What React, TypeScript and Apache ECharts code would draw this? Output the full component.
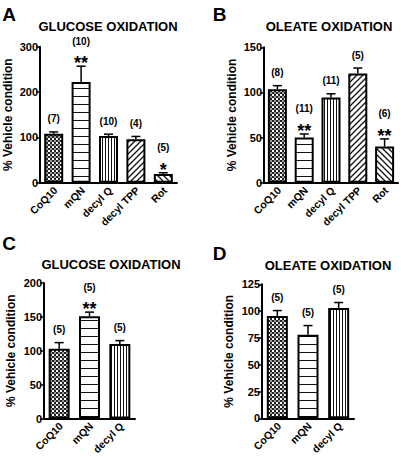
import React, { useEffect, useRef } from 'react';
import * as echarts from 'echarts';

const catsAB = ['CoQ10', 'mQN', 'decyl Q', 'decyl TPP', 'Rot'];
const catsCD = ['CoQ10', 'mQN', 'decyl Q'];

const glucoseA = [108, 222, 103, 96, 19];
const glucoseAErr = [4, 35, 4, 6, 3];
const glucoseAN = ['(7)', '(10)', '(10)', '(4)', '(5)'];
const glucoseASig = ['', '**', '', '', '*'];

const oleateB = [103.5, 50, 94.5, 121, 40];
const oleateBErr = [4, 4, 4, 6, 8.5];
const oleateBN = ['(8)', '(11)', '(11)', '(5)', '(6)'];
const oleateBSig = ['', '**', '', '', '**'];

const glucoseC = [103, 151, 110];
const glucoseCErr = [9, 6, 5];
const glucoseCN = ['(5)', '(5)', '(5)'];
const glucoseCSig = ['', '**', ''];

const oleateD = [95.5, 78, 103];
const oleateDErr = [5, 8.5, 5];
const oleateDN = ['(5)', '(5)', '(5)'];
const oleateDSig = ['', '', ''];

const yTitle = '% Vehicle condition';
const FONT = '"Liberation Sans", Arial, Helvetica, sans-serif';

const patternOf: Record<string, string> = {
  'CoQ10': 'checker',
  'mQN': 'hlines',
  'decyl Q': 'vlines',
  'decyl TPP': 'diagR',
  'Rot': 'diagL',
};

function makePattern(kind: string) {
  const c = document.createElement('canvas');
  let w = 4, h = 4;
  if (kind === 'hlines') { w = 4; h = 8; }
  if (kind === 'vlines') { w = 3; h = 4; }
  if (kind === 'diagR' || kind === 'diagL') { w = 6; h = 6; }
  c.width = w; c.height = h;
  const ctx = c.getContext('2d')!;
  ctx.fillStyle = '#fff';
  ctx.fillRect(0, 0, w, h);
  ctx.fillStyle = '#111';
  ctx.strokeStyle = '#111';
  if (kind === 'checker') {
    ctx.fillStyle = '#222';
    ctx.fillRect(0, 0, 2, 2);
    ctx.fillRect(2, 2, 2, 2);
    ctx.fillStyle = '#999';
    ctx.fillRect(2, 0, 2, 2);
  } else if (kind === 'hlines') {
    ctx.fillRect(0, 0, w, 1);
  } else if (kind === 'vlines') {
    ctx.fillRect(0, 0, 1, h);
  } else if (kind === 'diagR') {
    ctx.lineWidth = 1.3;
    ctx.beginPath();
    ctx.moveTo(0, h); ctx.lineTo(w, 0);
    ctx.moveTo(-2, 2); ctx.lineTo(2, -2);
    ctx.moveTo(w - 2, h + 2); ctx.lineTo(w + 2, h - 2);
    ctx.stroke();
  } else if (kind === 'diagL') {
    ctx.lineWidth = 1.3;
    ctx.beginPath();
    ctx.moveTo(0, 0); ctx.lineTo(w, h);
    ctx.moveTo(w - 2, -2); ctx.lineTo(w + 2, 2);
    ctx.moveTo(-2, h - 2); ctx.lineTo(2, h + 2);
    ctx.stroke();
  }
  return { image: c.toDataURL(), repeat: 'repeat', imageWidth: w, imageHeight: h };
}

export default function App() {
  const ref = useRef<HTMLDivElement>(null);
  useEffect(() => {
    if (!ref.current) return;
    const chart = echarts.init(ref.current, null, { renderer: 'svg' });
    const pats: Record<string, any> = {};
    Object.keys(patternOf).forEach((k) => { pats[k] = makePattern(patternOf[k]); });

    const grids = [
      { left: 40, top: 46.7, width: 137, height: 136 },
      { left: 264, top: 47.3, width: 134, height: 135.4 },
      { left: 44, top: 283, width: 91, height: 135.5 },
      { left: 262, top: 284.3, width: 92, height: 134 },
    ];

    const xAxis = (gi: number, cats: string[]) => ({
      type: 'category', gridIndex: gi, data: cats,
      axisLine: { show: true, lineStyle: { color: '#000', width: 2 } },
      axisTick: { show: false },
      axisLabel: { show: false },
      splitLine: { show: false },
    });
    const yAxis = (gi: number, max: number, interval: number, gap: number) => ({
      type: 'value', gridIndex: gi, min: 0, max, interval,
      name: yTitle, nameLocation: 'middle', nameGap: gap,
      nameTextStyle: { fontSize: 12, fontWeight: 'bold', color: '#000', fontFamily: FONT },
      axisLine: { show: true, lineStyle: { color: '#000', width: 2 } },
      axisTick: { show: true, length: 4, lineStyle: { color: '#000', width: 1.5 } },
      axisLabel: { fontSize: 11, fontWeight: 'bold', color: '#000', margin: 2, fontFamily: FONT },
      splitLine: { show: false },
    });

    const barSeries = (gi: number, cats: string[], vals: number[], bw: number) => ({
      type: 'bar', xAxisIndex: gi, yAxisIndex: gi, barWidth: bw, silent: true,
      emphasis: { disabled: true },
      data: vals.map((v, i) => ({
        value: v,
        itemStyle: { color: pats[cats[i]], borderColor: '#000', borderWidth: 2 },
      })),
    });

    const catLabelSeries = (gi: number, cats: string[]) => ({
      type: 'custom', xAxisIndex: gi, yAxisIndex: gi, silent: true, z: 6, clip: false,
      data: cats.map((c, i) => [i, 0]),
      renderItem: (params: any, api: any) => {
        const p = api.coord([api.value(0), 0]);
        return {
          type: 'text',
          x: p[0] + 2,
          y: p[1] + 6,
          rotation: Math.PI / 4,
          style: { text: cats[params.dataIndex], align: 'right', verticalAlign: 'middle', font: `bold 10.5px ${FONT}`, fill: '#000' },
        };
      },
    });

    const errSeries = (gi: number, vals: number[], errs: number[], ns: string[], sigs: string[]) => ({
      type: 'custom', xAxisIndex: gi, yAxisIndex: gi, silent: true, z: 5,
      data: vals.map((v, i) => [i, v, errs[i]]),
      renderItem: (params: any, api: any) => {
        const i = api.value(0);
        const m = api.value(1);
        const e = api.value(2);
        const top = api.coord([i, m + e]);
        const base = api.coord([i, m]);
        const children: any[] = [
          { type: 'line', shape: { x1: base[0], y1: base[1], x2: top[0], y2: top[1] }, style: { stroke: '#000', lineWidth: 1.5 } },
          { type: 'line', shape: { x1: top[0] - 4.5, y1: top[1], x2: top[0] + 4.5, y2: top[1] }, style: { stroke: '#000', lineWidth: 1.5 } },
        ];
        const sig = sigs[params.dataIndex];
        const nText = ns[params.dataIndex];
        if (sig) {
          children.push({ type: 'text', style: { text: sig, x: top[0], y: top[1] - 3, align: 'center', verticalAlign: 'middle', font: `bold 18px ${FONT}`, fill: '#000' } });
          children.push({ type: 'text', style: { text: nText, x: top[0], y: top[1] - 25, align: 'center', verticalAlign: 'middle', font: `bold 10px ${FONT}`, fill: '#000' } });
        } else {
          children.push({ type: 'text', style: { text: nText, x: top[0], y: top[1] - 13, align: 'center', verticalAlign: 'middle', font: `bold 10px ${FONT}`, fill: '#000' } });
        }
        return { type: 'group', children };
      },
    });

    const txt = (text: string, x: number, y: number, size: number) => ({
      type: 'text', x, y, silent: true,
      style: { text, align: 'center', verticalAlign: 'middle', font: `bold ${size}px ${FONT}`, fill: '#000' },
    });

    chart.setOption({
      animation: false,
      backgroundColor: '#fff',
      grid: grids.map((g) => ({ ...g, containLabel: false })),
      xAxis: [xAxis(0, catsAB), xAxis(1, catsAB), xAxis(2, catsCD), xAxis(3, catsCD)],
      yAxis: [yAxis(0, 300, 100, 26), yAxis(1, 150, 50, 26), yAxis(2, 200, 50, 27), yAxis(3, 125, 25, 27)],
      series: [
        barSeries(0, catsAB, glucoseA, 19),
        errSeries(0, glucoseA, glucoseAErr, glucoseAN, glucoseASig),
        catLabelSeries(0, catsAB),
        barSeries(1, catsAB, oleateB, 19),
        errSeries(1, oleateB, oleateBErr, oleateBN, oleateBSig),
        catLabelSeries(1, catsAB),
        barSeries(2, catsCD, glucoseC, 21),
        errSeries(2, glucoseC, glucoseCErr, glucoseCN, glucoseCSig),
        catLabelSeries(2, catsCD),
        barSeries(3, catsCD, oleateD, 21),
        errSeries(3, oleateD, oleateDErr, oleateDN, oleateDSig),
        catLabelSeries(3, catsCD),
      ],
      graphic: [
        txt('A', 9, 14, 19),
        txt('B', 219.5, 14, 19),
        txt('C', 9, 243, 19),
        txt('D', 219.5, 253, 19),
        txt('GLUCOSE OXIDATION', 108, 26, 13),
        txt('OLEATE OXIDATION', 329, 26, 13),
        txt('GLUCOSE OXIDATION', 111, 264, 13),
        txt('OLEATE OXIDATION', 328, 265, 13),
      ],
    });
    return () => chart.dispose();
  }, []);
  return <div ref={ref} style={{ position: 'absolute', left: 0, top: 0, width: 401, height: 457, background: '#fff' }} />;
}
